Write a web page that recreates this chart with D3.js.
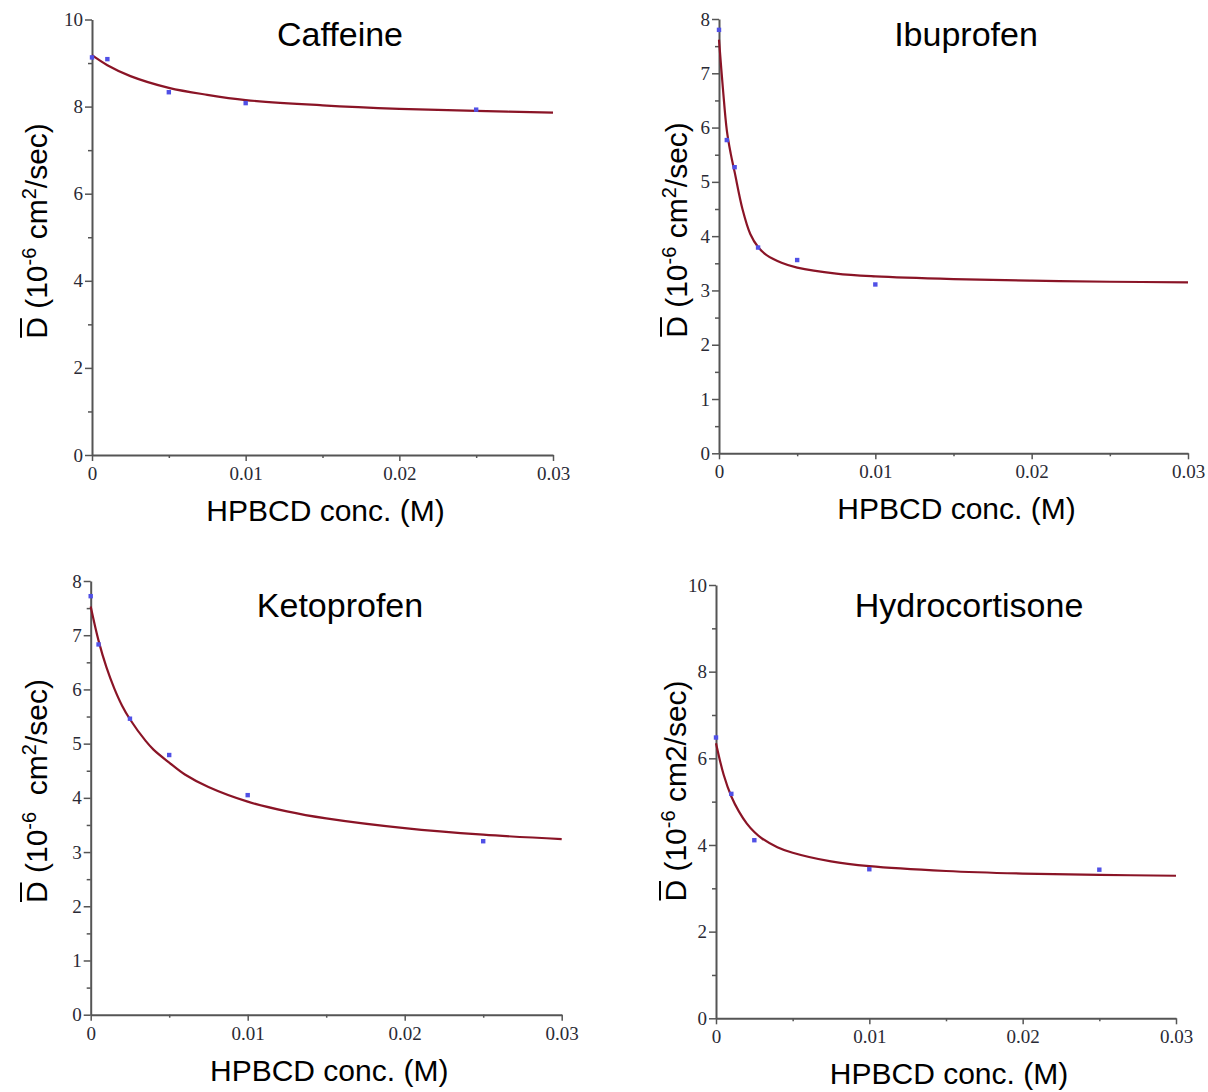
<!DOCTYPE html>
<html>
<head>
<meta charset="utf-8">
<script src="https://cdn.jsdelivr.net/npm/d3@7"></script>
<style>
  body { margin: 0; background: #fff; }
  svg { display: block; }
</style>
</head>
<body>
<svg id="chart"></svg>
<script>
// data ----------------------------------------------------------------------
var xTicks = [0, 0.01, 0.02, 0.03];
var xMinorTicks = [0.005, 0.015, 0.025];

var caffeineConc = [0, 0.001, 0.005, 0.01, 0.025];
var caffeineD = [9.13, 9.09, 8.33, 8.08, 7.93];
var caffeineFitConc = [0, 0.001, 0.0025, 0.005, 0.0075, 0.01, 0.015, 0.02, 0.025, 0.03];
var caffeineFitD = [9.18, 8.95, 8.70, 8.43, 8.27, 8.15, 8.03, 7.95, 7.90, 7.86];

var ibuprofenConc = [0, 0.0005, 0.001, 0.0025, 0.005, 0.01];
var ibuprofenD = [7.80, 5.77, 5.27, 3.79, 3.56, 3.11];
var ibuprofenFitConc = [0, 0.00025, 0.0005, 0.00075, 0.001, 0.0015, 0.002, 0.0025, 0.003, 0.004, 0.005, 0.0075, 0.01, 0.015, 0.02, 0.025, 0.03];
var ibuprofenFitD = [7.62, 6.72, 5.95, 5.52, 5.18, 4.50, 4.04, 3.80, 3.66, 3.51, 3.42, 3.31, 3.26, 3.21, 3.18, 3.16, 3.15];

var ketoprofenConc = [0, 0.0005, 0.0025, 0.005, 0.01, 0.025];
var ketoprofenD = [7.72, 6.83, 5.46, 4.79, 4.05, 3.20];
var ketoprofenFitConc = [0, 0.0005, 0.001, 0.0015, 0.002, 0.0025, 0.0035, 0.004, 0.005, 0.006, 0.0075, 0.01, 0.0125, 0.015, 0.02, 0.025, 0.03];
var ketoprofenFitD = [7.53, 6.90, 6.41, 6.02, 5.70, 5.45, 5.05, 4.89, 4.65, 4.43, 4.20, 3.93, 3.75, 3.62, 3.44, 3.32, 3.24];

var hydroConc = [0, 0.001, 0.0025, 0.01, 0.025];
var hydroD = [6.48, 5.18, 4.11, 3.44, 3.43];
var hydroFitConc = [0, 0.0005, 0.001, 0.0015, 0.002, 0.0025, 0.003, 0.004, 0.005, 0.0075, 0.01, 0.015, 0.02, 0.025, 0.03];
var hydroFitD = [6.35, 5.62, 5.12, 4.77, 4.50, 4.30, 4.15, 3.95, 3.82, 3.62, 3.51, 3.40, 3.34, 3.31, 3.29];

var ticks10 = [0, 2, 4, 6, 8, 10], minor10 = [1, 3, 5, 7, 9];
var ticks8 = [0, 1, 2, 3, 4, 5, 6, 7, 8], minor8 = [0.5, 1.5, 2.5, 3.5, 4.5, 5.5, 6.5, 7.5];

var labelSup = [["(10", 0], ["-6", 1], [" cm", 0], ["2", 1], ["/sec)", 0]];
var labelSupKeto = [["(10", 0], ["-6", 1], ["\u00a0 cm", 0], ["2", 1], ["/sec)", 0]];
var labelPlain = [["(10", 0], ["-6", 1], [" cm2/sec)", 0]];

// layout ------------------------------------------------------------------
var width = 1208, height = 1092;
var svg = d3.select("#chart").attr("width", width).attr("height", height);

var panels = [
  {title: "Caffeine", tx: 340, ty: 46, conc: caffeineConc, d: caffeineD, fc: caffeineFitConc, fd: caffeineFitD,
   yMax: 10, yt: ticks10, ym: minor10, left: 92, right: 553, top: 19.5, bottom: 455, lx: 47, ly: 231, lab: labelSup},
  {title: "Ibuprofen", tx: 966, ty: 46, conc: ibuprofenConc, d: ibuprofenD, fc: ibuprofenFitConc, fd: ibuprofenFitD,
   yMax: 8, yt: ticks8, ym: minor8, left: 719, right: 1188, top: 19, bottom: 453.3, lx: 687, ly: 230, lab: labelSup},
  {title: "Ketoprofen", tx: 340, ty: 617, conc: ketoprofenConc, d: ketoprofenD, fc: ketoprofenFitConc, fd: ketoprofenFitD,
   yMax: 8, yt: ticks8, ym: minor8, left: 90.7, right: 561.7, top: 581, bottom: 1014.7, lx: 47, ly: 791, lab: labelSupKeto},
  {title: "Hydrocortisone", tx: 969, ty: 617, conc: hydroConc, d: hydroD, fc: hydroFitConc, fd: hydroFitD,
   yMax: 10, yt: ticks10, ym: minor10, left: 716, right: 1176, top: 585, bottom: 1018.3, lx: 686, ly: 791, lab: labelPlain}
];

var axisColor = "#555";
var tickFont = "'Liberation Serif', 'Times New Roman', serif";
var textFont = "'Liberation Sans', Arial, sans-serif";

panels.forEach(function(p) {
  var x = d3.scaleLinear().domain([0, 0.03]).range([p.left, p.right]);
  var y = d3.scaleLinear().domain([0, p.yMax]).range([p.bottom, p.top]);
  var g = svg.append("g");

  // x axis
  var xa = g.append("g")
      .attr("transform", "translate(0," + p.bottom + ")")
      .call(d3.axisBottom(x).tickValues(xTicks).tickSize(6).tickSizeOuter(0)
        .tickFormat(function(d) { return d === 0 ? "0" : d3.format(".2f")(d); }));
  xa.selectAll("text").attr("dy", "0.85em")
      .style("font-family", tickFont).style("font-size", "19px").attr("fill", "#2a2a35");
  g.append("g")
      .attr("transform", "translate(0," + p.bottom + ")")
      .call(d3.axisBottom(x).tickValues(xMinorTicks).tickSize(3).tickSizeOuter(0).tickFormat(""))
      .select(".domain").remove();

  // y axis
  var ya = g.append("g")
      .attr("transform", "translate(" + p.left + ",0)")
      .call(d3.axisLeft(y).tickValues(p.yt).tickSize(7).tickSizeOuter(0).tickFormat(d3.format("d")));
  ya.selectAll("text").attr("x", -9)
      .style("font-family", tickFont).style("font-size", "19px").attr("fill", "#2a2a35");
  g.append("g")
      .attr("transform", "translate(" + p.left + ",0)")
      .call(d3.axisLeft(y).tickValues(p.ym).tickSize(4).tickSizeOuter(0).tickFormat(""))
      .select(".domain").remove();

  g.selectAll(".domain").attr("stroke", axisColor).attr("stroke-width", 2);
  g.selectAll(".tick line").attr("stroke", axisColor).attr("stroke-width", 1.5);

  // fitted curve
  var fit = p.fc.map(function(c, i) { return [c, p.fd[i]]; });
  g.append("path")
      .datum(fit)
      .attr("fill", "none")
      .attr("stroke", "#8a1426")
      .attr("stroke-width", 2.2)
      .attr("d", d3.line()
        .x(function(d) { return x(d[0]); })
        .y(function(d) { return y(d[1]); })
        .curve(d3.curveCatmullRom.alpha(0.5)));

  // measured points
  var pts = p.conc.map(function(c, i) { return [c, p.d[i]]; });
  g.selectAll("rect.pt")
      .data(pts)
      .enter()
      .append("rect")
      .attr("class", "pt")
      .attr("x", function(d) { return x(d[0]) - 2.2; })
      .attr("y", function(d) { return y(d[1]) - 2.2; })
      .attr("width", 4.4)
      .attr("height", 4.4)
      .attr("fill", "#5050e6");

  // title
  g.append("text")
      .attr("x", p.tx).attr("y", p.ty)
      .attr("text-anchor", "middle")
      .style("font-family", textFont).style("font-size", "34px")
      .text(p.title);

  // x label
  g.append("text")
      .attr("x", (p.left + p.right) / 2 + 3).attr("y", p.bottom + 66)
      .attr("text-anchor", "middle")
      .style("font-family", textFont).style("font-size", "30px")
      .text("HPBCD conc. (M)");

  // y label, rotated, with overbar on D
  var lg = g.append("g").attr("transform", "translate(" + p.lx + "," + p.ly + ") rotate(-90)");
  var lt = lg.append("text")
      .attr("text-anchor", "middle")
      .style("font-family", textFont).style("font-size", "30px");
  lt.append("tspan").text("D ");
  var up = false;
  p.lab.forEach(function(part) {
    var ts = lt.append("tspan").text(part[0]);
    if (part[1] && !up) { ts.attr("dy", -11).style("font-size", "20px"); up = true; }
    else if (!part[1] && up) { ts.attr("dy", 11); up = false; }
  });
  var ext = lt.node().getExtentOfChar(0);
  lg.append("line")
      .attr("x1", ext.x + 1).attr("x2", ext.x + ext.width * 0.95)
      .attr("y1", -26).attr("y2", -26)
      .attr("stroke", "#000").attr("stroke-width", 2);
});
</script>
</body>
</html>
